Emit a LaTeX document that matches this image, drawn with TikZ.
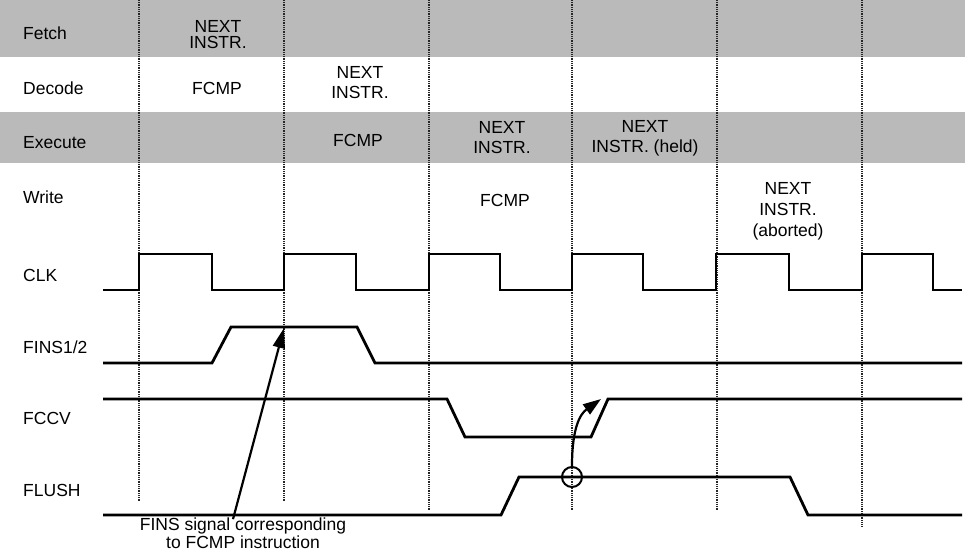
\documentclass[tikz,border=0pt]{standalone}
\usepackage{fontspec}
\setmainfont{Liberation Sans}
\usetikzlibrary{arrows.meta}
\begin{document}
\begin{tikzpicture}[x=1pt,y=-1pt,
  lbl/.style={anchor=west,inner sep=0pt,font=\fontsize{17.5}{20}\selectfont},
  cell/.style={align=center,inner sep=0pt,font=\fontsize{17.5}{20}\selectfont},
  sig/.style={line width=2.8pt,line join=miter},
  gridline/.style={line width=1.3pt,dash pattern=on 1pt off 0.8pt,black!85},
  band/.style={fill=black!27,draw=none},
  ann/.style={line width=2.2pt,-{Triangle[length=20pt,width=12pt]}},
  ring/.style={circle,draw,line width=2pt,minimum size=20pt,inner sep=0pt}]
\useasboundingbox (0,0) rectangle (965,552);
% shaded bands
\fill[band] (0,0) rectangle (965,57);
\fill[band] (0,112) rectangle (965,163);
% dotted clock-edge lines
\draw[gridline] (139,0) -- (139,502);
\draw[gridline] (284,0) -- (284,502);
\draw[gridline] (429,0) -- (429,511);
\draw[gridline] (572,0) -- (572,511);
\draw[gridline] (717,0) -- (717,511);
\draw[gridline] (862,0) -- (862,526);
% row labels
\node[lbl] (lfetch) at (23,33) {Fetch};
\node[lbl] (ldecode) at (23,88) {Decode};
\node[lbl] (lexec) at (23,143) {Execute};
\node[lbl] (lwrite) at (23,197) {Write};
\node[lbl] (lclk) at (23,275) {CLK};
\node[lbl] (lfins) at (23,347) {FINS1/2};
\node[lbl] (lfccv) at (23,418) {FCCV};
\node[lbl] (lflush) at (23,490) {FLUSH};
% pipeline cells
\node[cell,font=\fontsize{17.5}{16}\selectfont] (f1) at (218,35) {NEXT\\INSTR.};
\node[cell] (d1) at (217,88) {FCMP};
\node[cell] (d2) at (360,83) {NEXT\\INSTR.};
\node[cell] (e2) at (358,140) {FCMP};
\node[cell] (e3) at (502,138) {NEXT\\INSTR.};
\node[cell] (e4) at (645,138) {NEXT\\INSTR. (held)};
\node[cell] (w3) at (505,200) {FCMP};
\node[cell,font=\fontsize{17.5}{21}\selectfont] (w5) at (788,211) {NEXT\\INSTR.\\(aborted)};
% signals
\draw[sig] (103,290) -- (139,290) -- (139,254) -- (212,254) -- (212,290)
  -- (284,290) -- (284,254) -- (356,254) -- (356,290)
  -- (429,290) -- (429,254) -- (500,254) -- (500,290)
  -- (572,290) -- (572,254) -- (643,254) -- (643,290)
  -- (716,290) -- (716,254) -- (789,254) -- (789,290)
  -- (862,290) -- (862,254) -- (933,254) -- (933,290) -- (962,290);
\draw[sig] (103,363) -- (212,363) -- (231,327) -- (357,327) -- (375,363) -- (962,363);
\draw[sig] (103,399) -- (447,399) -- (465,437) -- (591,437) -- (608,399) -- (962,399);
\draw[sig] (103,515) -- (501,515) -- (519,477) -- (790,477) -- (808,515) -- (962,515);
% annotations
\coordinate (finstip) at (284,328);
\coordinate (fccvtip) at (601,399);
\node[ring] (flushpt) at (572,477) {};
\node[cell,font=\fontsize{17.5}{18.5}\selectfont] (note) at (243,533) {FINS signal corresponding\\to FCMP instruction};
\draw[ann] ([xshift=-10pt,yshift=-2pt]note.north) -- (finstip);
\draw[ann,-{Triangle[length=18pt,width=12pt]}] (flushpt.north) .. controls (572,428) and (580,414) .. (fccvtip);
\end{tikzpicture}
\end{document}
